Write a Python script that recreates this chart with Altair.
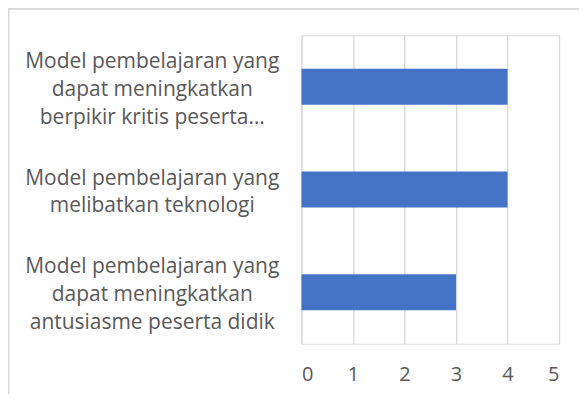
import altair as alt
import pandas as pd

categories = [
    "Model pembelajaran yang|dapat meningkatkan|berpikir kritis peserta…",
    "Model pembelajaran yang|melibatkan teknologi",
    "Model pembelajaran yang|dapat meningkatkan|antusiasme peserta didik",
]
values = [4, 4, 3]
x_ticks = [0, 1, 2, 3, 4, 5]

df = pd.DataFrame({"category": categories, "value": values})

FONT = "Open Sans"
TXT = "#595959"

base = alt.Chart(df)

bars = base.mark_bar(color="#4472C4").encode(
    x=alt.X(
        "value:Q",
        scale=alt.Scale(domain=[0, 5], nice=False),
        axis=alt.Axis(
            values=x_ticks,
            title=None,
            grid=True,
            gridColor="#D9D9D9",
            gridWidth=1.3,
            domain=False,
            ticks=False,
            labelFont=FONT,
            labelFontSize=20,
            labelColor=TXT,
            labelPadding=21,
        ),
    ),
    y=alt.Y(
        "category:N",
        sort=categories,
        scale=alt.Scale(paddingInner=0.65, paddingOuter=0.325),
        axis=alt.Axis(
            title=None,
            domain=False,
            ticks=False,
            grid=False,
            labelFont=FONT,
            labelFontSize=21,
            labelColor=TXT,
            labelAlign="center",
            labelBaseline="middle",
            labelPadding=150,
            labelLimit=400,
            labelLineHeight=28,
            labelOffset={
                "condition": {
                    "test": "indexof(datum.value, 'teknologi') >= 0",
                    "value": -11,
                },
                "value": -25,
            },
            labelExpr="split(datum.label, '|')",
        ),
    ),
)

border_top = base.mark_rule(color="#D9D9D9", strokeWidth=1.5).encode(
    x=alt.value(-294), x2=alt.value(300), y=alt.value(-26.5)
)
border_left = base.mark_rule(color="#D9D9D9", strokeWidth=1.5).encode(
    x=alt.value(-293.5), y=alt.value(-27), y2=alt.value(400)
)

chart = (
    alt.layer(border_top, border_left, bars)
    .properties(
        width=258,
        height=309,
        autosize=alt.AutoSizeParams(type="none"),
        padding={"left": 294, "top": 27, "right": 20, "bottom": 50},
    )
    .configure_view(stroke=None)
    .configure(background="white")
)

chart.save("out.html", embed_options={"renderer": "svg", "actions": False})
